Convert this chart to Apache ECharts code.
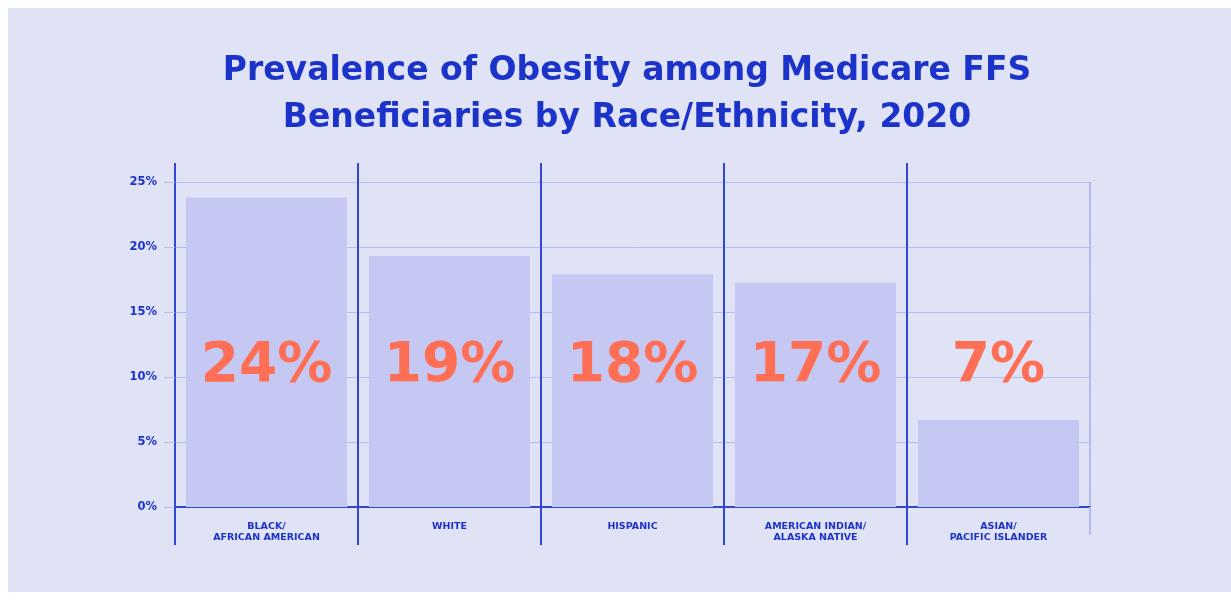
<!DOCTYPE html>
<html>
<head>
<meta charset="utf-8">
<script src="https://cdn.jsdelivr.net/npm/echarts@6/dist/echarts.min.js"></script>
<style>
html,body{margin:0;padding:0;background:#ffffff;}
#bg{position:absolute;left:8px;top:8px;width:1223px;height:584px;background:#e0e2f6;}
#chart{position:absolute;left:0;top:0;width:1231px;height:601px;}
</style>
</head>
<body>
<div id="bg"></div>
<div id="chart"></div>
<script>
const categories = ['BLACK/\nAFRICAN AMERICAN', 'WHITE', 'HISPANIC', 'AMERICAN INDIAN/\nALASKA NATIVE', 'ASIAN/\nPACIFIC ISLANDER'];
const values = [23.8, 19.3, 17.9, 17.25, 6.7];
const valueLabels = ['24%', '19%', '18%', '17%', '7%'];
const yTicks = [0, 5, 10, 15, 20, 25];
const boundaries = ['b0', 'b1', 'b2', 'b3', 'b4', 'b5'];

const DARK = '#3347d4';
const LIGHT = '#b4bbef';
const TEXT = '#1c33c9';
const LABEL_LEVEL = 10.8;
const FONT = '"DejaVu Sans", sans-serif';

const chart = echarts.init(document.getElementById('chart'));
chart.setOption({
  backgroundColor: 'transparent',
  animation: false,
  title: {
    text: 'Prevalence of Obesity among Medicare FFS\nBeneficiaries by Race/Ethnicity, 2020',
    left: 622, top: 43, textAlign: 'center',
    textStyle: { fontFamily: FONT, fontWeight: 'bold', fontSize: 33, lineHeight: 47, color: TEXT }
  },
  grid: { left: 175, right: 141, top: 182, bottom: 94, containLabel: false },
  xAxis: [
    {
      type: 'category', data: categories, position: 'bottom', boundaryGap: true,
      axisLine: { show: true, lineStyle: { color: DARK, width: 2 } },
      axisTick: { show: false },
      splitLine: { show: false },
      axisLabel: { interval: 0, margin: 14, fontFamily: FONT, fontWeight: 'bold', fontSize: 9.5, lineHeight: 11, color: TEXT, align: 'center' }
    },
    {
      type: 'category', data: boundaries, position: 'top', boundaryGap: false,
      axisLine: { show: false }, axisLabel: { show: false },
      axisTick: { show: true, length: 19, interval: function (i) { return i < 5; }, lineStyle: { color: DARK, width: 2 } },
      splitLine: { show: true, interval: 0, lineStyle: { color: [DARK, DARK, DARK, DARK, DARK, LIGHT], width: 2 } }
    },
    {
      type: 'category', data: boundaries, position: 'bottom', boundaryGap: false,
      axisLine: { show: false }, axisLabel: { show: false },
      axisTick: { show: true, length: 38, interval: function (i) { return i < 5; }, lineStyle: { color: DARK, width: 2 } },
      splitLine: { show: false }
    },
    {
      type: 'category', data: boundaries, position: 'bottom', boundaryGap: false,
      axisLine: { show: false }, axisLabel: { show: false },
      axisTick: { show: true, length: 28, interval: function (i) { return i === 5; }, lineStyle: { color: LIGHT, width: 2 } },
      splitLine: { show: false }
    }
  ],
  yAxis: {
    type: 'value', min: yTicks[0], max: yTicks[yTicks.length - 1], interval: 5,
    axisLine: { show: false },
    axisTick: { show: true, length: 11, lineStyle: { color: LIGHT, width: 1 } },
    splitLine: { show: true, lineStyle: { color: LIGHT, width: 1 } },
    axisLabel: { margin: 18, formatter: '{value}%', fontFamily: FONT, fontWeight: 'bold', fontSize: 11.5, color: TEXT }
  },
  series: [
    {
      type: 'bar', data: values, xAxisIndex: 0, yAxisIndex: 0,
      barCategoryGap: '12%',
      itemStyle: { color: '#c4c8f2' },
      z: 3
    },
    {
      type: 'custom', xAxisIndex: 0, yAxisIndex: 0, z: 5,
      data: values.map(function (v, i) { return [i, v]; }),
      renderItem: function (params, api) {
        const p = api.coord([api.value(0), LABEL_LEVEL]);
        return {
          type: 'text',
          style: {
            text: valueLabels[params.dataIndex], x: p[0], y: p[1],
            align: 'center', verticalAlign: 'middle',
            font: 'bold 55px ' + FONT, fill: '#ff6f55'
          }
        };
      }
    }
  ]
});
</script>
</body>
</html>
